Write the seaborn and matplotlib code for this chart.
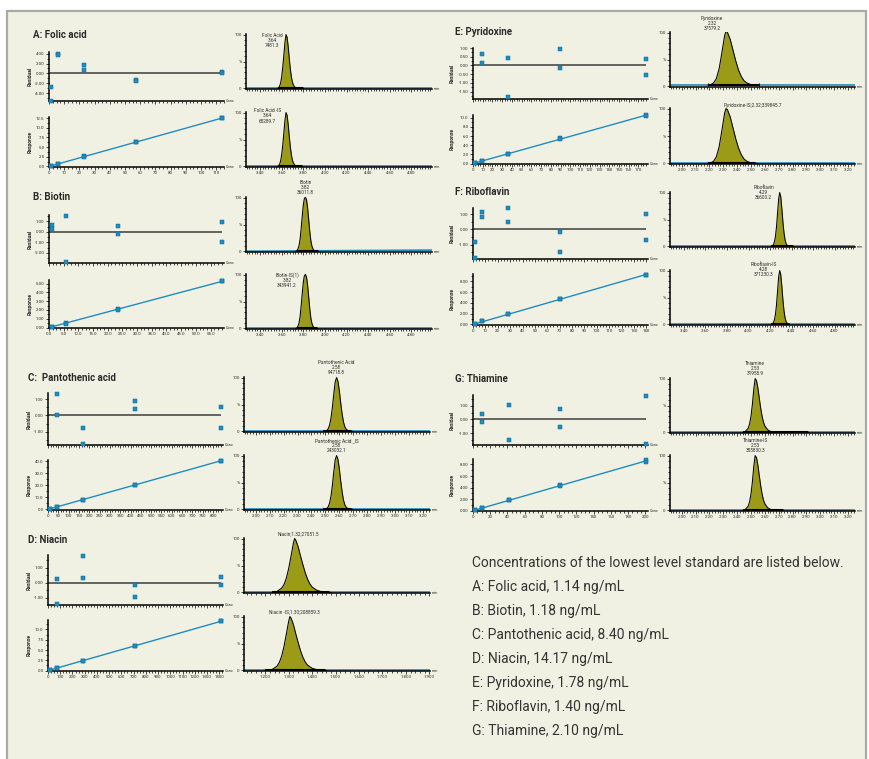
import numpy as np
import pandas as pd
import seaborn as sns
import matplotlib.pyplot as plt
import matplotlib.transforms as mtransforms
from matplotlib.ticker import MultipleLocator, FormatStrFormatter, AutoMinorLocator
from matplotlib.patches import Rectangle

##-----Calibration data-----##
A_conc = [1.14, 5.7, 22.8, 57.0, 114.0]
A_res1 = [-2.7, 3.9, 1.8, -1.4, 0.2]
A_res2 = [-5.5, 3.7, 0.7, -1.6, 0.1]
A_resp1 = [0.13, 0.62, 2.6, 6.3, 12.6]
A_resp2 = [0.12, 0.60, 2.5, 6.2, 12.5]

B_conc = [1.18, 5.9, 23.6, 59.0]
B_res1 = [0.66, 1.53, 0.60, 0.90]
B_res2 = [0.30, -2.88, -0.18, -1.00]
B_resp1 = [0.07, 0.47, 2.08, 5.30]
B_resp2 = [0.06, 0.45, 2.05, 5.25]

C_conc = [8.4, 42.0, 168.0, 420.0, 840.0]
C_res1 = [np.nan, 1.30, -0.78, 0.88, 0.49]
C_res2 = [np.nan, 0.00, -1.71, 0.39, -0.78]
C_resp1 = [0.4, 2.2, 8.2, 20.5, 40.5]
C_resp2 = [0.4, 2.1, 8.0, 20.3, 40.2]

D_conc = [14.17, 70.9, 283.0, 708.0, 1417.0]
D_res1 = [np.nan, 0.26, 1.80, -0.13, 0.37]
D_res2 = [np.nan, -1.45, 0.33, -0.98, -0.18]
D_resp1 = [0.12, 0.65, 2.40, 6.00, 12.05]
D_resp2 = [0.11, 0.62, 2.35, 5.95, 12.00]

E_conc = [1.78, 8.9, 35.6, 89.0, 178.0]
E_res1 = [np.nan, 0.64, 0.41, 0.95, 0.37]
E_res2 = [np.nan, 0.15, -1.82, -0.17, -0.52]
E_resp1 = [0.13, 0.64, 2.14, 5.50, 10.50]
E_resp2 = [0.12, 0.62, 2.10, 5.45, 10.45]

F_conc = [1.4, 7.0, 28.0, 70.0, 140.0]
F_res1 = [-0.84, 1.16, 1.38, -0.15, 0.99]
F_res2 = [-1.89, 0.84, 0.46, -1.45, -0.70]
F_resp1 = [0.12, 0.62, 2.00, 4.75, 9.25]
F_resp2 = [0.11, 0.60, 1.95, 4.70, 9.20]

G_conc = [2.1, 10.5, 42.0, 101.0, 201.0]
G_res1 = [np.nan, 0.38, 1.02, 0.74, 1.74]
G_res2 = [np.nan, -0.17, -1.50, -0.55, -1.83]
G_resp1 = [0.09, 0.47, 1.82, 4.40, 8.76]
G_resp2 = [0.08, 0.45, 1.78, 4.35, 8.47]

##-----Chromatogram traces (time in min, intensity in %)-----##
A_t = [3.56, 3.57, 3.58, 3.59, 3.60, 3.61, 3.62, 3.63, 3.64, 3.65, 3.66, 3.67, 3.68, 3.69, 3.70, 3.71, 3.72, 3.73, 3.74]
A_pk = [0, 1, 4, 10, 22, 40, 62, 85, 100, 95, 78, 56, 36, 21, 11, 6, 3, 1, 0]

B_t = [3.73, 3.74, 3.75, 3.76, 3.77, 3.78, 3.79, 3.80, 3.81, 3.82, 3.83, 3.84, 3.85, 3.86, 3.87, 3.88, 3.89, 3.90, 3.91]
B_pk = [0, 1, 4, 10, 22, 42, 65, 86, 98, 100, 95, 80, 58, 36, 19, 9, 4, 1, 0]

C_t = [2.50, 2.51, 2.52, 2.53, 2.54, 2.55, 2.56, 2.57, 2.58, 2.59, 2.60, 2.61, 2.62, 2.63, 2.64, 2.65, 2.66, 2.67, 2.70]
C_pk = [0, 2, 5, 12, 25, 45, 70, 92, 100, 93, 75, 52, 32, 17, 8, 4, 2, 1, 0]

D_t = [1.23, 1.25, 1.27, 1.28, 1.29, 1.30, 1.31, 1.32, 1.325, 1.33, 1.34, 1.35, 1.36, 1.37, 1.38, 1.39, 1.40, 1.42, 1.44, 1.46, 1.48]
D_is_t = [1.21, 1.23, 1.25, 1.26, 1.27, 1.28, 1.29, 1.30, 1.305, 1.31, 1.32, 1.33, 1.34, 1.35, 1.36, 1.37, 1.38, 1.40, 1.42, 1.44, 1.46]
D_pk = [0, 2, 8, 15, 27, 45, 68, 92, 100, 97, 85, 68, 52, 37, 25, 16, 10, 4, 1.5, 0.5, 0]

E_t = [2.19, 2.21, 2.23, 2.25, 2.27, 2.29, 2.31, 2.32, 2.33, 2.35, 2.37, 2.39, 2.41, 2.43, 2.45, 2.47, 2.50, 2.55]
E_pk = [0, 1, 4, 12, 30, 60, 92, 100, 98, 85, 65, 45, 28, 16, 8, 4, 1, 0]

F_t = [4.21, 4.22, 4.23, 4.24, 4.25, 4.26, 4.27, 4.28, 4.29, 4.30, 4.31, 4.32, 4.33, 4.34, 4.35, 4.36, 4.38]
F_pk = [0, 1, 3, 8, 18, 36, 62, 88, 100, 92, 70, 45, 25, 12, 5, 2, 0]

G_t = [2.44, 2.46, 2.48, 2.49, 2.50, 2.51, 2.52, 2.53, 2.54, 2.55, 2.56, 2.57, 2.58, 2.59, 2.60, 2.62, 2.64, 2.67, 2.72]
G_pk = [0, 2, 8, 16, 30, 52, 80, 100, 96, 82, 63, 45, 30, 19, 12, 5, 2, 1, 0]

titles = ["A: Folic acid", "B: Biotin", "C:  Pantothenic acid", "D: Niacin",
          "E: Pyridoxine", "F: Riboflavin", "G: Thiamine"]
peak_labels = [
    ("Folic Acid\n3.64\n7481.3", "Folic Acid -IS\n3.64\n65289.7"),
    ("Biotin\n3.82\n36011.8", "Biotin-IS(1)\n3.82\n343941.2"),
    ("Pantothenic Acid\n2.58\n94718.8", "Pantothenic Acid _IS\n2.58\n243032.1"),
    ("Niacin;1.32;27051.5", "Niacin -IS;1.30;208859.3"),
    ("Pyridoxine\n2.32\n37579.2", "Pyridoxine-IS;2.32;339845.7"),
    ("Riboflavin\n4.29\n36600.2", "Riboflavin-IS\n4.28\n371230.3"),
    ("Thiamine\n2.53\n31958.9", "Thiamine-IS\n2.53\n355830.3"),
]
notes = ["Concentrations of the lowest level standard are listed below.",
         "A: Folic acid, 1.14 ng/mL", "B: Biotin, 1.18 ng/mL",
         "C: Pantothenic acid, 8.40 ng/mL", "D: Niacin, 14.17 ng/mL",
         "E: Pyridoxine, 1.78 ng/mL", "F: Riboflavin, 1.40 ng/mL",
         "G: Thiamine, 2.10 ng/mL"]

##-----Style-----##
W, H = 869, 759
BG = "#f1f1e3"
BLUE = "#1f8cc0"
DARKBLUE = "#0e6a99"
OLIVE = "#9b9b17"
INK = "#2b2b2b"

sns.set_theme(style="white")
plt.rcParams['font.family'] = ['Roboto', 'DejaVu Sans']

fig = plt.figure(figsize=(W / 100, H / 100), dpi=100)
fig.patch.set_facecolor("white")
fig.patches.append(Rectangle((7 / W, -0.01), (866 - 7) / W, 1 - 11 / H + 0.01,
                             transform=fig.transFigure, facecolor=BG,
                             edgecolor="#a9a9a9", lw=1.6, zorder=-10))


def px_axes(x0, y0, x1, y1):
    ax = fig.add_axes([x0 / W, 1 - y1 / H, (x1 - x0) / W, (y1 - y0) / H])
    ax.set_facecolor("none")
    for s in ["top", "right"]:
        ax.spines[s].set_visible(False)
    for s in ["left", "bottom"]:
        ax.spines[s].set_color("black")
        ax.spines[s].set_linewidth(1.1)
    ax.tick_params(which="both", direction="out", colors="black", width=0.5,
                   labelsize=3.2, labelcolor=INK, pad=1)
    ax.tick_params(which="major", length=2.2, left=True, bottom=True)
    ax.tick_params(which="minor", length=1.4, left=True, bottom=True)
    ax.set_xlabel("")
    return ax


def side_label(ax, text, dx):
    ax.set_ylabel(text, fontsize=3.6, fontweight="bold", color=INK)
    w = ax.get_position().width * W
    ax.yaxis.set_label_coords(-dx / w, 0.5)


def calib_axes(box, conc, yvals1, yvals2, ylim, ystep, yfmt, xstep, xfmt, kind, dx):
    ax = px_axes(*box)
    df = pd.DataFrame({"conc": conc + conc, "val": yvals1 + yvals2})
    if kind == "Residual":
        ax.hlines(0, 0, max(conc), color="#3c3c3c", lw=1.1)
    else:
        slope = np.nansum(df.conc * df.val) / np.nansum(df.conc ** 2)
        fit = pd.DataFrame({"conc": [0, max(conc)], "val": [0, slope * max(conc)]})
        sns.lineplot(data=fit, x="conc", y="val", color=BLUE, lw=1.0, ax=ax)
    sns.scatterplot(data=df, x="conc", y="val", marker="s", s=5.5, color=BLUE,
                    edgecolor=DARKBLUE, linewidth=0.35, ax=ax, clip_on=False, zorder=5)
    ax.set_xlim(0, max(conc) * 1.01)
    ax.set_ylim(*ylim)
    ax.xaxis.set_major_locator(MultipleLocator(xstep))
    ax.xaxis.set_minor_locator(AutoMinorLocator(4))
    ax.yaxis.set_major_locator(MultipleLocator(ystep))
    ax.yaxis.set_minor_locator(AutoMinorLocator(2))
    ax.yaxis.set_major_formatter(FormatStrFormatter(yfmt))
    ax.xaxis.set_major_formatter(FormatStrFormatter(xfmt))
    if kind == "Residual":
        ax.tick_params(axis="x", labelbottom=False)
    ax.set_xlabel("")
    side_label(ax, kind, dx)
    ax.text(1.008, 0, "Conc", transform=ax.transAxes, fontsize=2.8,
            va="center", ha="left", color=INK)
    return ax


def chrom_axes(box, t, pk, rng, xstep, xfmt, xminor, bar, label, lab_x, lab_y,
               va, base=(0, 0), show_x=True):
    ax = px_axes(*box)
    sns.lineplot(x=list(rng), y=list(base), color=BLUE, lw=1.2, ax=ax)
    y = np.array(pk) + base[0]
    ax.fill_between(t, base[0], y, color=OLIVE, lw=0, zorder=3)
    sns.lineplot(x=t, y=y, color="black", lw=0.75, ax=ax, sort=False,
                 estimator=None, zorder=4)
    ax.hlines(base[0], bar[0], bar[1], color="black", lw=1.5, zorder=4)
    ax.vlines(bar, base[0] - 3, base[0] + 3, color="black", lw=0.6, zorder=4)
    ax.set_xlim(*rng)
    ax.set_ylim(-1, 101)
    ax.set_yticks([0, 50, 100])
    ax.set_yticklabels(["0", "%", "100"])
    ax.yaxis.set_minor_locator(MultipleLocator(10))
    ax.xaxis.set_major_locator(MultipleLocator(xstep))
    ax.xaxis.set_minor_locator(MultipleLocator(xminor))
    ax.xaxis.set_major_formatter(FormatStrFormatter(xfmt))
    ax.tick_params(axis="x", labelbottom=show_x)
    ax.set_xlabel("")
    ax.set_ylabel("")
    tr = mtransforms.blended_transform_factory(ax.transData, ax.transAxes)
    ax.text(lab_x, lab_y, label, transform=tr, ha="center", va=va,
            fontsize=3.4, linespacing=1.05, color=INK, clip_on=False)
    ax.text(1.008, 0, "min", transform=ax.transAxes, fontsize=2.8,
            va="center", ha="left", color=INK)
    return ax


##-----Left column-----##
LX = (49, 224)
CX = (246, 432)
RX = (473, 648)
CX2 = (670, 855)
R_A = (3.27, 4.99)
R_C = (1.916, 3.25)
R_D = (1.109, 1.903)

# A: Folic acid
calib_axes((LX[0], 52, LX[1], 101), A_conc, A_res1, A_res2, (-5.6, 4.35), 2, "%.2f", 10, "%.0f", "Residual", 16)
calib_axes((LX[0], 117, LX[1], 167), A_conc, A_resp1, A_resp2, (-0.15, 12.8), 2.5, "%.1f", 10, "%.0f", "Response", 16)
chrom_axes((CX[0], 34, CX[1], 89), A_t, A_pk, R_A, 0.2, "%.2f", 0.025, (3.57, 3.80),
           peak_labels[0][0], 3.51, 1.02, "top", show_x=False)
chrom_axes((CX[0], 112, CX[1], 167), A_t, A_pk, R_A, 0.2, "%.2f", 0.025, (3.57, 3.79),
           peak_labels[0][1], 3.47, 1.07, "top")

# B: Biotin
calib_axes((LX[0], 215, LX[1], 263), B_conc, B_res1, B_res2, (-2.95, 1.6), 1, "%.2f", 5, "%.1f", "Residual", 16)
calib_axes((LX[0], 280, LX[1], 328), B_conc, B_resp1, B_resp2, (-0.05, 5.4), 1, "%.2f", 5, "%.1f", "Response", 16)
chrom_axes((CX[0], 197, CX[1], 252), B_t, B_pk, R_A, 0.2, "%.2f", 0.025, (3.74, 3.94),
           peak_labels[1][0], 3.82, 1.03, "bottom", base=(0.5, 2.5), show_x=False)
chrom_axes((CX[0], 274, CX[1], 329), B_t, B_pk, R_A, 0.2, "%.2f", 0.025, (3.74, 3.93),
           peak_labels[1][1], 3.65, 1.04, "top")

# C: Pantothenic acid
calib_axes((48, 393, 223, 445), C_conc, C_res1, C_res2, (-1.8, 1.37), 1, "%.2f", 50, "%.0f", "Residual", 16)
calib_axes((48, 460, 223, 510), C_conc, C_resp1, C_resp2, (-0.5, 41), 10, "%.1f", 50, "%.0f", "Response", 16)
chrom_axes((244, 377, 430, 432), C_t, C_pk, R_C, 0.1, "%.2f", 0.02, (2.48, 2.68),
           peak_labels[2][0], 2.58, 1.03, "bottom", show_x=False)
chrom_axes((244, 455, 430, 510), C_t, C_pk, R_C, 0.1, "%.2f", 0.02, (2.48, 2.68),
           peak_labels[2][1], 2.58, 1.03, "bottom")

# D: Niacin
calib_axes((48, 555, 223, 605), D_conc, D_res1, D_res2, (-1.49, 1.85), 1, "%.2f", 100, "%.0f", "Residual", 16)
calib_axes((48, 620, 223, 671), D_conc, D_resp1, D_resp2, (-0.1, 12.3), 2.5, "%.1f", 100, "%.0f", "Response", 16)
chrom_axes((244, 538, 430, 593), D_t, D_pk, R_D, 0.1, "%.3f", 0.02, (1.23, 1.47),
           peak_labels[3][0], 1.34, 1.055, "center", show_x=False)
chrom_axes((244, 616, 430, 671), D_is_t, D_pk, R_D, 0.1, "%.3f", 0.02, (1.20, 1.455),
           peak_labels[3][1], 1.325, 1.055, "center")

##-----Right column-----##
# E: Pyridoxine
calib_axes((RX[0], 48, RX[1], 99), E_conc, E_res1, E_res2, (-1.92, 1.0), 0.5, "%.2f", 10, "%.0f", "Residual", 18)
calib_axes((RX[0], 115, RX[1], 164), E_conc, E_resp1, E_resp2, (-0.1, 10.6), 2, "%.1f", 10, "%.0f", "Response", 18)
chrom_axes((CX2[0], 32, CX2[1], 87), E_t, E_pk, R_C, 0.1, "%.2f", 0.02, (2.19, 2.56),
           peak_labels[4][0], 2.22, 1.01, "bottom", base=(2.5, 2.5), show_x=False)
chrom_axes((CX2[0], 108, CX2[1], 164), E_t, E_pk, R_C, 0.1, "%.2f", 0.02, (2.19, 2.53),
           peak_labels[4][1], 2.51, 1.05, "center")

# F: Riboflavin
calib_axes((RX[0], 208, RX[1], 259), F_conc, F_res1, F_res2, (-1.93, 1.4), 1, "%.2f", 10, "%.0f", "Residual", 18)
calib_axes((RX[0], 274, RX[1], 325), F_conc, F_resp1, F_resp2, (-0.1, 9.37), 2, "%.2f", 10, "%.0f", "Response", 18)
chrom_axes((CX2[0], 192, CX2[1], 247), F_t, F_pk, R_A, 0.2, "%.2f", 0.025, (4.21, 4.41),
           peak_labels[5][0], 4.14, 1.13, "top", show_x=False)
chrom_axes((CX2[0], 270, CX2[1], 325), F_t, F_pk, R_A, 0.2, "%.2f", 0.025, (4.21, 4.38),
           peak_labels[5][1], 4.14, 1.145, "top")

# G: Thiamine
calib_axes((RX[0], 395, RX[1], 445), G_conc, G_res1, G_res2, (-1.88, 1.79), 1, "%.2f", 20, "%.0f", "Residual", 18)
calib_axes((RX[0], 459, RX[1], 511), G_conc, G_resp1, G_resp2, (-0.05, 8.94), 2, "%.2f", 20, "%.0f", "Response", 18)
chrom_axes((CX2[0], 378, CX2[1], 433), G_t, G_pk, R_C, 0.1, "%.2f", 0.02, (2.445, 2.91),
           peak_labels[6][0], 2.53, 1.03, "bottom", show_x=False)
chrom_axes((CX2[0], 455, CX2[1], 511), G_t, G_pk, R_C, 0.1, "%.2f", 0.02, (2.445, 2.73),
           peak_labels[6][1], 2.53, 1.03, "bottom")

##-----Panel titles-----##
title_pos = [(33, 35), (33, 197), (28, 378), (28, 540), (455, 32), (455, 192), (455, 379)]
for txt, (x, y) in zip(titles, title_pos):
    fig.text(x / W, 1 - y / H, txt, fontsize=7, fontweight="bold",
             color=INK, va="center", ha="left")

##-----Notes-----##
for i, line in enumerate(notes):
    fig.text(472 / W, 1 - (563 + 24 * i) / H, line, fontsize=10,
             color="#333333", va="center", ha="left")

fig.savefig("out.png", dpi=100, facecolor=fig.get_facecolor())
